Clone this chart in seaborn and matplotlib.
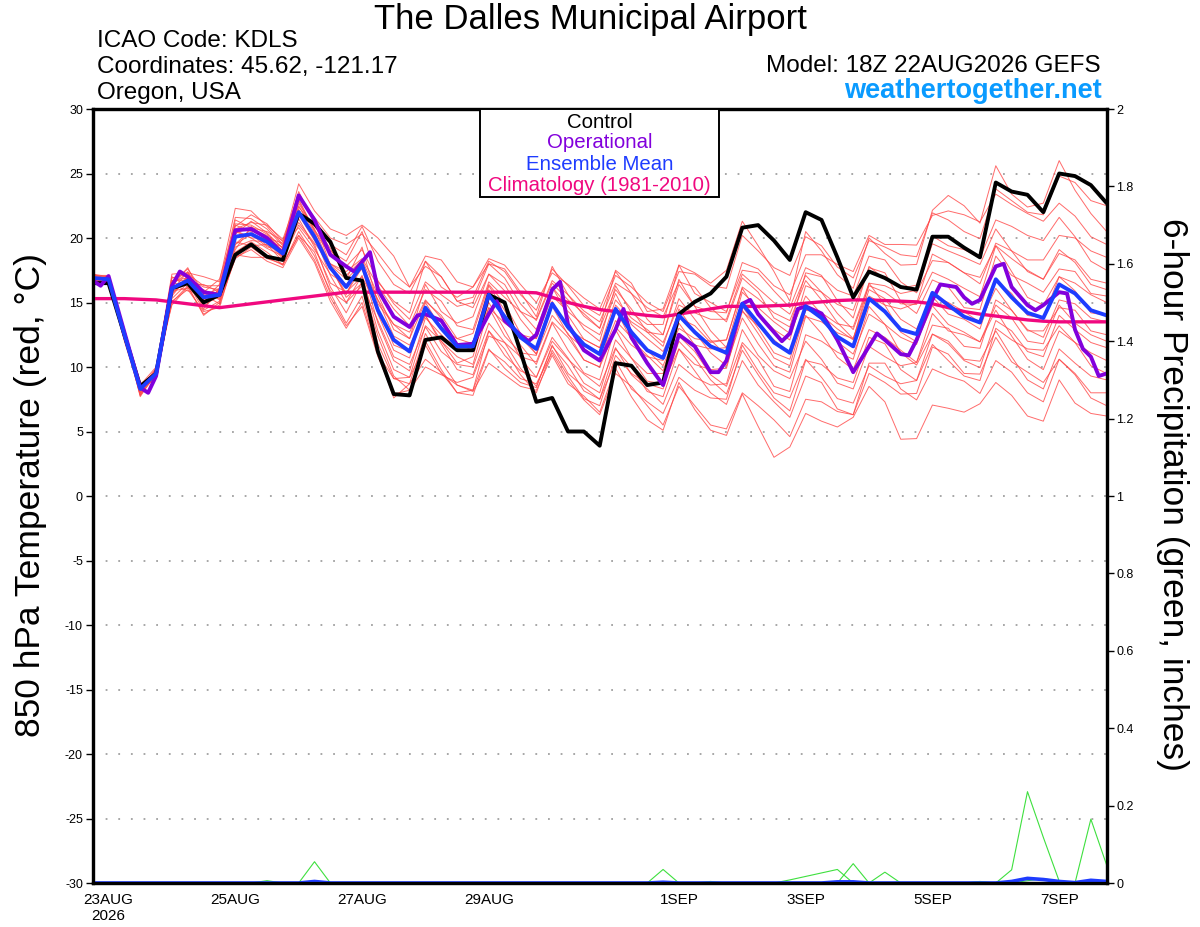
import pandas as pd
import matplotlib
matplotlib.use('Agg')
import matplotlib.pyplot as plt
import matplotlib.dates as mdates
from matplotlib.patches import Rectangle
import seaborn as sns

# 6-hourly GEFS output, 22AUG2026 18Z -> 7SEP2026 18Z
start = pd.Timestamp('2026-08-22 18:00')
times = pd.date_range(start, periods=65, freq='6h')

# 850 hPa temperature (C)
control = [16.5, 16.5, 12.5, 8.5, 9.5, 16.1, 16.5, 15.0, 15.6, 18.7,
           19.5, 18.55, 18.3, 21.9, 21.1, 19.7, 16.9, 16.7, 11.2, 7.9,
           7.8, 12.1, 12.3, 11.3, 11.3, 15.6, 15.0, 11.2, 7.3, 7.6,
           5.0, 5.0, 3.9, 10.3, 10.1, 8.6, 8.8, 14.1, 15.05, 15.7,
           17.0, 20.8, 21.0, 19.8, 18.3, 22.0, 21.4, 18.5, 15.4, 17.4,
           16.9, 16.2, 16.0, 20.1, 20.1, 19.25, 18.5, 24.3, 23.6, 23.35,
           22.0, 25.0, 24.8, 24.1, 22.7]

ens_mean = [16.9, 16.8, 12.5, 8.3, 9.5, 16.1, 16.7, 15.4, 15.6, 20.1,
            20.3, 19.7, 18.8, 22.0, 20.1, 17.7, 16.2, 17.9, 14.4, 12.1,
            11.2, 14.6, 13.0, 11.6, 11.6, 15.6, 13.9, 12.3, 11.4, 14.9,
            13.1, 11.75, 11.0, 14.5, 12.7, 11.3, 10.7, 14.0, 12.7, 11.6,
            11.1, 14.9, 13.4, 11.9, 11.1, 14.7, 13.8, 12.35, 11.6, 15.3,
            14.3, 12.9, 12.55, 15.75, 14.8, 13.9, 13.45, 16.8, 15.4, 14.2,
            13.8, 16.4, 15.7, 14.4, 14.0]

climo = [15.3, 15.3, 15.3, 15.25, 15.2, 15.05, 14.9, 14.75, 14.6, 14.75,
         14.9, 15.05, 15.2, 15.35, 15.5, 15.65, 15.8, 15.8, 15.8, 15.8,
         15.8, 15.8, 15.8, 15.8, 15.8, 15.8, 15.8, 15.8, 15.75, 15.4,
         15.0, 14.7, 14.45, 14.3, 14.15, 14.0, 13.9, 14.1, 14.3, 14.5,
         14.7, 14.7, 14.7, 14.75, 14.8, 14.95, 15.05, 15.15, 15.2, 15.2,
         15.15, 15.1, 15.05, 14.9, 14.6, 14.3, 14.1, 13.95, 13.8, 13.65,
         13.55, 13.5, 13.5, 13.5, 13.5]

# operational run has extra 3-hourly vertices
oper_hours = [0, 3, 6, 12, 18, 21, 24, 30, 33, 36, 42, 48, 54, 60, 66, 72, 78, 84, 90,
              96, 99, 105, 108, 114, 120, 123, 126, 132, 138, 144, 150, 153, 156, 162,
              165, 168, 174, 177, 180, 186, 192, 198, 201, 204, 210, 216, 222, 228, 234,
              237, 240, 246, 249, 252, 258, 261, 264, 267, 270, 276, 282, 288, 294, 297,
              300, 306, 309, 312, 318, 321, 324, 327, 330, 333, 336, 342, 345, 348, 354,
              357, 360, 366, 369, 372, 375, 378, 381, 384]
oper_vals = [16.7, 16.3, 17.05, 12.7, 8.4, 8.0, 9.3, 16.3, 17.4, 17.0, 15.8, 15.6, 20.6,
             20.7, 20.0, 18.8, 23.3, 21.4, 18.7, 17.8, 17.4, 18.9, 16.0, 13.9, 13.1, 14.0,
             14.1, 13.6, 11.7, 11.8, 14.1, 15.1, 13.6, 12.5, 12.0, 12.5, 16.0, 16.6, 13.3,
             11.3, 10.5, 12.9, 14.5, 12.3, 10.3, 8.6, 12.5, 11.6, 9.6, 9.6, 10.5, 14.9,
             15.2, 14.1, 12.7, 12.0, 12.6, 14.5, 14.7, 14.15, 12.1, 9.6, 11.6, 12.6, 12.1,
             11.0, 10.9, 12.1, 15.2, 16.4, 16.3, 16.2, 15.4, 14.9, 15.2, 17.8, 18.0, 16.2,
             14.8, 14.4, 14.8, 15.8, 15.7, 12.9, 11.4, 10.8, 9.3, 9.5]

members = {
    'p01': [17.1, 16.9, 12.8, 8.0, 9.7, 16.9, 17.2, 16.3, 16.3, 21.6, 21.5, 20.7, 19.4, 23.6,
            21.1, 19.5, 18.7, 20.9, 18.2, 16.4, 15.7, 18.2, 17.0, 15.1, 15.4, 18.2, 17.4, 15.6,
            14.4, 17.6, 16.3, 14.75, 14.0, 17.1, 16.2, 15.0, 14.3, 17.4, 17.2, 16.3, 16.1, 20.2,
            19.0, 17.7, 17.1, 20.1, 19.4, 17.75, 16.9, 19.8, 19.3, 18.7, 18.55, 21.95, 21.4, 20.5,
            19.95, 23.8, 22.9, 22.0, 21.8, 24.8, 24.3, 22.9, 22.5],
    'p02': [16.8, 17.1, 12.5, 7.8, 9.9, 17.2, 17.3, 17.0, 16.6, 22.3, 22.1, 20.9, 19.5, 24.2,
            22.1, 20.7, 20.2, 21.0, 20.0, 18.6, 16.2, 18.6, 18.3, 16.6, 16.2, 18.0, 17.6, 15.8,
            13.9, 17.8, 15.6, 13.95, 13.0, 17.5, 16.5, 14.3, 14.5, 17.9, 17.3, 16.5, 17.5, 21.3,
            19.4, 17.4, 15.1, 20.5, 19.0, 17.15, 16.1, 20.0, 18.8, 17.9, 17.95, 22.15, 23.3, 22.5,
            21.15, 25.6, 23.4, 22.4, 22.7, 26.0, 23.7, 21.9, 20.5],
    'p03': [17.0, 16.6, 12.7, 8.5, 9.3, 16.6, 17.6, 15.8, 16.8, 20.9, 21.8, 21.1, 19.7, 23.0,
            20.6, 19.0, 18.2, 20.5, 16.6, 15.1, 14.2, 18.2, 16.2, 15.4, 16.2, 18.4, 17.9, 16.4,
            15.0, 17.3, 16.4, 15.35, 14.5, 17.4, 15.7, 13.7, 12.5, 16.8, 14.7, 14.3, 14.2, 18.1,
            17.6, 16.3, 15.6, 18.7, 18.7, 17.95, 17.4, 20.2, 19.5, 19.5, 19.45, 21.75, 22.1, 21.8,
            21.25, 23.4, 22.6, 21.9, 21.3, 22.7, 21.7, 20.1, 19.5],
    'p04': [16.7, 17.0, 12.2, 8.4, 9.5, 15.7, 16.9, 14.9, 15.9, 19.5, 20.7, 20.2, 19.0, 21.2,
            19.6, 18.0, 17.4, 18.4, 16.3, 14.5, 13.2, 16.0, 15.1, 13.2, 12.9, 16.6, 15.4, 14.3,
            13.7, 16.7, 15.6, 14.35, 13.5, 16.5, 15.7, 14.6, 13.9, 16.6, 16.2, 14.6, 13.5, 16.9,
            15.8, 13.8, 13.1, 17.3, 17.0, 15.95, 15.5, 18.6, 18.3, 16.6, 15.75, 18.25, 18.1, 17.3,
            16.45, 19.6, 19.0, 18.3, 18.3, 20.2, 20.0, 19.0, 18.5],
    'p05': [17.2, 16.8, 13.0, 8.1, 9.8, 16.5, 16.4, 16.4, 15.8, 21.4, 20.8, 19.8, 19.3, 23.2,
            21.6, 20.0, 19.5, 20.3, 18.8, 17.2, 16.2, 17.8, 17.0, 15.1, 14.6, 17.2, 16.4, 14.3,
            12.9, 16.2, 14.7, 12.95, 12.0, 16.3, 14.2, 13.3, 13.3, 17.9, 15.7, 15.0, 14.3, 17.5,
            17.3, 15.9, 14.6, 17.7, 17.1, 15.15, 13.8, 17.8, 16.8, 16.1, 16.35, 20.15, 19.4, 19.1,
            18.45, 21.4, 20.9, 20.2, 19.8, 21.6, 20.1, 18.2, 17.5],
    'p06': [16.6, 16.7, 12.3, 8.6, 9.7, 17.0, 16.2, 16.0, 15.2, 20.6, 20.0, 19.2, 18.6, 22.4,
            20.9, 19.2, 16.8, 19.3, 14.9, 13.3, 12.2, 16.4, 14.3, 13.4, 13.9, 17.2, 15.9, 13.7,
            12.2, 16.2, 14.0, 12.15, 11.5, 15.2, 13.8, 12.9, 11.9, 14.8, 14.2, 13.7, 13.7, 17.2,
            16.1, 15.0, 14.1, 17.1, 15.8, 14.15, 12.9, 16.3, 15.8, 14.9, 14.85, 17.35, 16.8, 16.1,
            15.45, 19.4, 18.4, 17.5, 16.8, 18.8, 18.3, 16.8, 16.5],
    'p07': [16.9, 17.0, 12.6, 8.2, 9.2, 15.5, 17.0, 14.5, 16.1, 19.1, 20.9, 20.0, 19.6, 20.8,
            19.1, 17.2, 16.4, 17.6, 15.2, 13.3, 12.7, 15.2, 13.8, 11.8, 11.3, 14.6, 13.4, 12.5,
            12.2, 15.5, 14.3, 13.25, 12.5, 15.7, 13.3, 12.2, 11.2, 13.8, 13.2, 11.9, 12.1, 16.1,
            14.1, 12.9, 12.1, 16.3, 15.8, 14.85, 14.4, 17.7, 17.3, 15.1, 14.15, 16.75, 16.2, 14.6,
            14.45, 18.6, 17.1, 16.5, 15.8, 17.6, 17.4, 15.7, 15.5],
    'p08': [17.0, 16.9, 12.1, 8.3, 9.9, 15.9, 17.4, 15.1, 16.0, 20.3, 21.3, 20.4, 19.2, 22.5,
            20.4, 17.7, 15.6, 18.3, 14.1, 11.3, 10.7, 15.0, 13.0, 12.2, 12.6, 16.4, 14.9, 12.6,
            11.0, 14.0, 12.6, 10.55, 10.0, 14.8, 13.5, 12.7, 12.5, 16.4, 14.7, 12.8, 11.5, 14.7,
            13.0, 11.1, 10.6, 14.5, 14.0, 12.95, 12.1, 16.5, 14.8, 14.5, 14.95, 18.75, 18.1, 17.3,
            16.95, 19.4, 17.4, 15.4, 14.8, 17.0, 15.9, 14.2, 14.0],
    'p09': [16.8, 16.5, 12.7, 8.7, 9.4, 16.4, 15.9, 15.6, 14.9, 19.7, 19.4, 19.5, 18.2, 21.5,
            19.3, 16.5, 15.8, 17.0, 14.6, 11.7, 11.2, 14.0, 12.0, 10.8, 10.2, 14.6, 12.4, 11.1,
            10.9, 15.1, 12.9, 12.15, 11.5, 14.5, 12.1, 10.9, 9.7, 13.4, 11.7, 11.4, 11.5, 15.8,
            14.6, 13.5, 12.6, 15.5, 14.1, 11.95, 11.0, 14.1, 13.3, 12.3, 11.75, 15.45, 14.1, 13.7,
            12.95, 16.7, 15.7, 14.0, 13.8, 17.0, 16.5, 15.6, 15.0],
    'p10': [17.1, 17.1, 12.4, 7.9, 9.6, 16.7, 16.7, 15.9, 15.7, 21.0, 20.5, 19.4, 19.1, 22.7,
            20.7, 17.8, 15.7, 17.7, 13.4, 10.5, 9.7, 13.8, 12.5, 11.4, 11.9, 16.0, 13.9, 11.7,
            10.2, 13.4, 11.3, 9.55, 9.0, 13.1, 11.7, 10.8, 10.5, 14.5, 12.7, 11.1, 10.1, 13.8,
            11.8, 10.1, 9.6, 13.9, 13.5, 12.65, 12.2, 16.0, 15.3, 13.7, 12.95, 15.55, 15.0, 14.3,
            13.45, 16.1, 14.4, 12.9, 12.3, 15.2, 14.9, 13.8, 13.5],
    'p11': [16.7, 16.8, 12.5, 8.5, 9.1, 15.3, 16.5, 14.4, 15.1, 18.9, 19.7, 18.9, 17.9, 20.5,
            18.6, 15.9, 15.0, 16.3, 13.6, 10.8, 10.2, 13.1, 11.2, 10.2, 10.0, 13.4, 11.9, 10.8,
            10.4, 13.5, 12.3, 10.55, 10.0, 12.9, 10.7, 8.9, 8.7, 11.4, 10.2, 9.8, 9.9, 14.3,
            13.2, 12.1, 11.1, 14.0, 12.6, 10.75, 9.8, 12.9, 12.3, 11.3, 10.35, 13.25, 13.0, 11.6,
            11.45, 15.2, 14.4, 12.8, 12.8, 14.6, 14.4, 12.8, 12.5],
    'p12': [17.2, 17.0, 12.9, 8.4, 9.8, 16.3, 17.7, 15.2, 16.4, 20.4, 20.8, 20.5, 19.8, 22.2,
            20.1, 17.1, 15.0, 17.1, 12.8, 9.8, 9.2, 13.2, 12.0, 10.3, 10.8, 15.0, 12.9, 10.7,
            9.2, 12.3, 10.7, 8.75, 8.0, 12.1, 10.7, 9.5, 9.5, 12.4, 11.2, 9.4, 8.5, 11.9,
            10.6, 8.5, 8.1, 12.5, 12.0, 11.15, 10.6, 14.7, 13.3, 11.1, 10.15, 12.55, 11.8, 10.5,
            9.95, 13.6, 12.8, 11.2, 10.8, 14.0, 12.9, 11.9, 11.5],
    'p13': [16.6, 16.6, 12.0, 8.0, 9.3, 15.6, 17.1, 14.7, 15.6, 19.5, 20.3, 19.3, 19.1, 21.8,
            19.8, 17.9, 16.8, 18.0, 15.2, 12.4, 11.7, 14.0, 11.8, 9.8, 9.4, 12.8, 10.9, 9.7,
            9.2, 12.0, 10.6, 9.45, 8.5, 11.5, 9.4, 8.3, 7.1, 10.2, 9.2, 8.6, 8.7, 12.9,
            10.9, 9.7, 9.1, 12.0, 10.6, 8.75, 8.3, 11.6, 10.8, 10.1, 10.35, 14.15, 12.8, 12.5,
            11.95, 14.4, 12.4, 10.6, 9.8, 12.8, 11.9, 11.1, 10.5],
    'p14': [16.9, 16.7, 12.8, 8.6, 10.0, 14.8, 16.2, 14.1, 14.8, 18.5, 19.1, 18.2, 17.7, 20.0,
            18.1, 15.1, 13.0, 15.0, 11.0, 9.1, 8.7, 12.6, 10.4, 8.6, 8.2, 12.8, 11.4, 9.4,
            8.0, 11.3, 9.3, 7.55, 7.0, 10.9, 9.5, 8.7, 8.3, 12.0, 10.7, 9.0, 7.9, 11.3,
            9.4, 7.6, 6.6, 10.5, 10.2, 9.15, 8.8, 12.3, 11.8, 9.8, 8.95, 11.75, 10.5, 9.3,
            8.95, 13.0, 12.1, 11.4, 11.3, 13.2, 11.9, 10.1, 9.5],
    'p15': [17.0, 16.4, 12.3, 7.8, 9.4, 15.1, 16.0, 14.3, 14.6, 18.7, 18.5, 18.5, 17.9, 20.2,
            18.9, 15.7, 13.4, 15.5, 11.1, 7.6, 8.7, 10.6, 9.6, 8.0, 7.8, 11.3, 10.4, 9.1,
            8.7, 11.1, 9.0, 7.45, 6.3, 9.5, 8.5, 7.0, 5.5, 8.5, 7.0, 5.5, 5.2, 8.0,
            7.0, 5.9, 4.6, 7.5, 7.3, 6.55, 6.3, 10.3, 10.3, 8.3, 7.45, 9.85, 9.3, 8.9,
            7.95, 10.5, 9.6, 8.0, 7.3, 10.6, 9.5, 8.0, 8.0],
    'p16': [16.5, 16.9, 12.6, 7.7, 9.6, 15.9, 16.1, 15.6, 15.3, 19.3, 19.8, 19.7, 18.4, 21.0,
            19.5, 16.2, 14.2, 16.6, 11.8, 9.1, 9.2, 11.7, 9.5, 8.6, 8.1, 10.3, 9.4, 8.5,
            8.2, 10.9, 8.7, 7.75, 6.5, 9.9, 7.7, 5.9, 5.1, 8.8, 6.7, 5.1, 4.7, 7.9,
            5.4, 3.0, 3.8, 6.4, 5.8, 5.35, 6.1, 8.5, 7.3, 4.4, 4.45, 7.05, 6.8, 6.5,
            7.15, 8.8, 7.8, 6.2, 5.8, 9.0, 7.2, 6.4, 6.2],
    'p17': [16.9, 17.0, 12.4, 8.4, 9.8, 16.4, 17.3, 15.5, 16.1, 20.7, 21.2, 21.0, 19.9, 23.4,
            21.3, 17.9, 15.4, 16.5, 12.4, 9.3, 8.2, 12.0, 9.8, 8.0, 8.2, 11.4, 9.9, 8.8,
            8.4, 11.7, 9.5, 8.45, 7.5, 10.5, 8.3, 7.3, 6.4, 9.2, 8.2, 7.6, 7.5, 11.7,
            9.7, 8.0, 7.6, 10.6, 9.2, 7.55, 7.2, 10.1, 9.3, 8.7, 8.95, 12.55, 12.0, 10.6,
            10.45, 12.8, 10.8, 9.0, 8.3, 11.4, 10.3, 9.3, 9.0],
    'p18': [16.8, 16.8, 12.9, 8.5, 9.6, 16.7, 16.9, 16.2, 16.0, 21.1, 21.0, 20.3, 19.2, 22.9,
            20.5, 18.7, 17.8, 19.1, 16.7, 14.9, 13.7, 16.6, 15.6, 14.7, 15.0, 18.0, 16.9, 14.9,
            13.6, 16.5, 15.2, 14.15, 13.0, 16.0, 14.5, 12.7, 11.6, 15.3, 13.7, 12.1, 10.9, 14.4,
            12.6, 10.7, 10.1, 14.4, 14.2, 13.35, 13.1, 16.5, 16.3, 15.7, 15.95, 19.55, 19.0, 18.5,
            17.95, 20.7, 19.0, 17.4, 16.8, 19.1, 18.1, 16.4, 16.0],
    'p19': [17.1, 16.7, 12.2, 8.3, 9.3, 16.2, 16.4, 15.8, 15.4, 20.5, 20.0, 20.0, 18.5, 22.2,
            19.9, 18.0, 17.1, 18.3, 15.6, 12.9, 12.2, 15.1, 14.0, 12.2, 11.8, 16.3, 14.4, 12.3,
            11.0, 14.7, 12.5, 11.45, 10.5, 13.6, 12.3, 11.3, 10.1, 13.0, 12.2, 12.0, 12.1, 16.2,
            15.3, 14.2, 13.6, 16.7, 15.2, 13.45, 12.2, 15.5, 14.8, 12.7, 11.95, 14.75, 13.3, 12.7,
            11.95, 14.8, 13.8, 12.0, 11.8, 14.8, 13.4, 12.5, 12.0],
    'p20': [16.7, 16.5, 12.7, 8.3, 9.2, 15.0, 16.3, 14.0, 15.0, 18.4, 19.3, 18.4, 18.0, 20.2,
            18.3, 15.4, 13.2, 14.7, 10.8, 7.9, 8.2, 10.0, 9.4, 8.8, 9.2, 12.4, 11.9, 9.9,
            8.5, 11.6, 10.1, 8.15, 7.5, 11.4, 10.0, 8.1, 7.7, 11.4, 9.7, 8.0, 7.1, 10.5,
            8.6, 7.3, 6.1, 9.3, 8.8, 6.75, 6.3, 9.5, 8.8, 7.9, 7.95, 11.55, 11.0, 9.5,
            9.45, 12.3, 10.4, 9.6, 8.8, 10.6, 9.4, 7.6, 7.0],
}

# 6-hour precipitation (inches), members with any rain + ensemble mean
precip_members = {
    'g1': [0, 0, 0, 0, 0, 0, 0, 0, 0, 0, 0, 0, 0,
           0, 0.055, 0, 0, 0, 0, 0, 0, 0, 0, 0, 0, 0,
           0, 0, 0, 0, 0, 0, 0, 0, 0, 0, 0.035, 0, 0,
           0, 0, 0, 0, 0, 0, 0, 0, 0, 0, 0, 0, 0,
           0, 0, 0, 0, 0, 0, 0.034, 0.236, 0.118, 0.005, 0, 0.165, 0.046],
    'g2': [0, 0, 0, 0, 0, 0, 0, 0, 0, 0, 0, 0.006, 0,
           0, 0, 0, 0, 0, 0, 0, 0, 0, 0, 0, 0, 0,
           0, 0, 0, 0, 0, 0, 0, 0, 0, 0, 0, 0, 0,
           0.004, 0, 0, 0, 0, 0, 0, 0, 0, 0, 0, 0, 0,
           0, 0, 0, 0, 0.003, 0, 0, 0, 0, 0, 0, 0, 0],
    'g3': [0, 0, 0, 0, 0, 0, 0, 0, 0, 0, 0, 0, 0,
           0, 0, 0, 0, 0, 0, 0, 0, 0, 0, 0, 0, 0,
           0, 0, 0, 0, 0, 0, 0, 0, 0, 0, 0, 0, 0,
           0, 0, 0, 0, 0, 0.008, 0.017, 0.026, 0.035, 0, 0, 0, 0,
           0, 0, 0, 0, 0, 0, 0, 0, 0, 0, 0, 0, 0],
    'g4': [0, 0, 0, 0, 0, 0, 0, 0, 0, 0, 0, 0, 0,
           0, 0, 0, 0, 0, 0, 0, 0, 0, 0, 0, 0, 0,
           0, 0, 0, 0, 0, 0, 0, 0, 0, 0, 0, 0, 0,
           0, 0, 0, 0, 0, 0, 0, 0, 0, 0.05, 0, 0.028, 0,
           0, 0, 0, 0, 0, 0, 0, 0, 0, 0, 0, 0, 0],
    'g5': [0, 0, 0, 0, 0, 0, 0, 0, 0, 0, 0, 0, 0,
           0, 0, 0, 0, 0, 0, 0, 0, 0, 0, 0, 0, 0,
           0, 0, 0, 0, 0, 0, 0, 0, 0, 0, 0, 0, 0,
           0, 0, 0, 0, 0, 0, 0, 0, 0, 0, 0, 0, 0,
           0, 0, 0, 0, 0.004, 0, 0, 0.006, 0.011, 0.005, 0, 0, 0],
}
precip_mean = [0, 0, 0, 0, 0, 0, 0, 0, 0, 0, 0, 0, 0,
               0, 0.004, 0, 0, 0, 0, 0, 0, 0, 0, 0, 0, 0,
               0, 0, 0, 0, 0, 0, 0, 0, 0, 0, 0.002, 0, 0,
               0, 0, 0, 0, 0, 0, 0, 0, 0.003, 0.003, 0, 0, 0,
               0, 0, 0, 0, 0, 0, 0.004, 0.012, 0.009, 0.004, 0.001, 0.007, 0.004]

tick_days = ['2026-08-23', '2026-08-25', '2026-08-27', '2026-08-29',
             '2026-09-01', '2026-09-03', '2026-09-05', '2026-09-07']
tick_labels = ['23AUG\n2026', '25AUG', '27AUG', '29AUG', '1SEP', '3SEP', '5SEP', '7SEP']

# long tables for seaborn
mem_df = pd.DataFrame([(m, t, v) for m, vals in members.items() for t, v in zip(times, vals)],
                      columns=['member', 'time', 'temp'])
pcp_df = pd.DataFrame([(m, t, v) for m, vals in precip_members.items() for t, v in zip(times, vals)],
                      columns=['member', 'time', 'pcp'])
oper_times = start + pd.to_timedelta(oper_hours, unit='h')

sns.set_style('white')
plt.rcParams['font.family'] = ['Liberation Sans', 'DejaVu Sans']
plt.rcParams['text.color'] = 'black'
plt.rcParams['xtick.color'] = 'black'
plt.rcParams['ytick.color'] = 'black'
plt.rcParams['axes.unicode_minus'] = False

W, H = 1200, 927
fig = plt.figure(figsize=(12, 9.27), dpi=100)
x0, x1, ytop, ybot = 92.7, 1106.7, 109, 883
ax = fig.add_axes([x0 / W, 1 - ybot / H, (x1 - x0) / W, (ybot - ytop) / H])

sns.lineplot(data=mem_df, x='time', y='temp', units='member', estimator=None,
             color='#ff4646', lw=0.7, alpha=0.8, ax=ax, zorder=2)
sns.lineplot(x=times, y=climo, color='#f0087f', lw=2.4, ax=ax, zorder=3)
sns.lineplot(x=times, y=control, color='black', lw=2.8, ax=ax, zorder=4)
sns.lineplot(x=oper_times, y=oper_vals, color='#8200dc', lw=2.8, ax=ax, zorder=5)
sns.lineplot(x=times, y=ens_mean, color='#1e3cff', lw=2.8, ax=ax, zorder=6)

ax.set_xlim(times[0], times[-1])
ax.set_ylim(-30, 30)
ax.set_yticks(range(-30, 31, 5))
ax.set_xticks([mdates.date2num(pd.Timestamp(d)) for d in tick_days])
ax.set_xticklabels(tick_labels)
ax.set_xlabel('')
ax.set_ylabel('')
ax.grid(False)
for yv in range(-25, 30, 5):
    ax.axhline(yv, color='#a0a0a0', lw=1.3, ls=(0, (1, 6)), zorder=1)
ax.tick_params(axis='y', direction='out', length=5, width=1, labelsize=9, pad=2)
ax.tick_params(axis='x', direction='out', length=5, width=1, labelsize=11, pad=2)

ax2 = ax.twinx()
sns.lineplot(data=pcp_df, x='time', y='pcp', units='member', estimator=None,
             color='#3ee03e', lw=0.8, ax=ax2)
sns.lineplot(x=times, y=precip_mean, color='#1e3cff', lw=2.6, ax=ax2)
ax2.set_ylim(0, 2)
ax2.set_xlim(times[0], times[-1])
pticks = [0, 0.2, 0.4, 0.6, 0.8, 1, 1.2, 1.4, 1.6, 1.8, 2]
ax2.set_yticks(pticks)
ax2.set_yticklabels(['0', '0.2', '0.4', '0.6', '0.8', '1', '1.2', '1.4', '1.6', '1.8', '2'])
ax2.set_ylabel('')
ax2.grid(False)
ax2.tick_params(axis='y', direction='out', length=5, width=1, labelsize=9, pad=2)

for a in (ax, ax2):
    for s in a.spines.values():
        s.set_linewidth(2.3)
        s.set_color('black')

# legend box
lx0, lx1, ly1 = (480 - x0) / (x1 - x0), (719 - x0) / (x1 - x0), (ybot - 197) / (ybot - ytop)
ax2.add_patch(Rectangle((lx0, ly1), lx1 - lx0, 1 - ly1, transform=ax2.transAxes,
                        facecolor='white', edgecolor='black', lw=1.4, zorder=10, clip_on=False))
leg_items = [('Control', 'black', 128), ('Operational', '#8200dc', 148),
             ('Ensemble Mean', '#1e3cff', 170), ('Climatology (1981-2010)', '#f0087f', 191)]
for txt, col, yb in leg_items:
    ax2.text((lx0 + lx1) / 2, (ybot - yb) / (ybot - ytop), txt, color=col, fontsize=14.7,
             ha='center', va='baseline', transform=ax2.transAxes, zorder=11)

# header texts
fig.text(590 / W, 1 - 29 / H, 'The Dalles Municipal Airport', fontsize=25, ha='center', va='baseline')
fig.text(97 / W, 1 - 47 / H, 'ICAO Code: KDLS', fontsize=17.5, ha='left', va='baseline')
fig.text(97 / W, 1 - 73 / H, 'Coordinates: 45.62, -121.17', fontsize=17.5, ha='left', va='baseline')
fig.text(97 / W, 1 - 99 / H, 'Oregon, USA', fontsize=17.5, ha='left', va='baseline')
fig.text(1101 / W, 1 - 72 / H, 'Model: 18Z 22AUG2026 GEFS', fontsize=17.5, ha='right', va='baseline')
fig.text(1102 / W, 1 - 98 / H, 'weathertogether.net', fontsize=19.5, ha='right', va='baseline',
         fontweight='bold', color='#0a9bff')
fig.text(31 / W, 1 - 495 / H, '850 hPa Temperature (red, °C)', fontsize=25.5, rotation=90,
         ha='center', va='center')
fig.text(1172 / W, 1 - 495 / H, '6-hour Precipitation (green, inches)', fontsize=25.5, rotation=270,
         ha='center', va='center')

fig.savefig('out.png', dpi=100, facecolor='white')
